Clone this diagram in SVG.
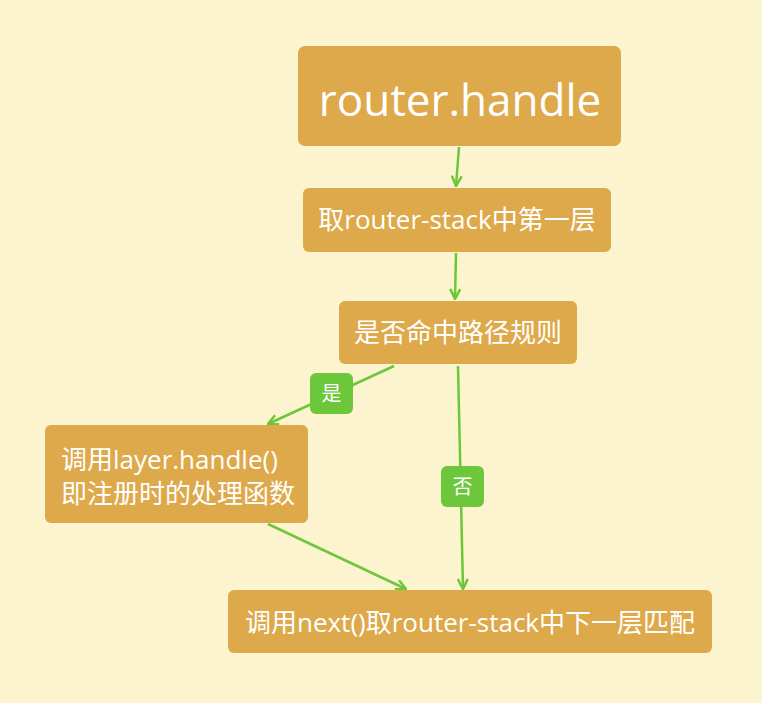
<svg xmlns="http://www.w3.org/2000/svg" width="762" height="703" viewBox="0 0 762 703">
<defs>
<style>
.node{fill:#DEA94A;}
.t{fill:#FFFFFF;font-family:"Open Sans","Noto Sans CJK SC",sans-serif;}
.c{stroke:#6CC73A;stroke-width:2.5;fill:none;}
.lb{fill:#6CC73A;}
.lt{fill:#FFFFFF;font-family:"Noto Sans CJK SC",sans-serif;font-size:20px;text-anchor:middle;}
</style>
<marker id="arr" viewBox="0 0 12 12" refX="11" refY="6" markerWidth="12" markerHeight="12" markerUnits="userSpaceOnUse" orient="auto">
<path d="M1,1 L11,6 L1,11" fill="none" stroke="#6CC73A" stroke-width="2.5" stroke-linejoin="miter"/>
</marker>
</defs>
<rect width="762" height="703" fill="#FCF4CE"/>
<g id="connectors">
<line class="c" x1="459" y1="147" x2="456" y2="186" marker-end="url(#arr)"/>
<line class="c" x1="456" y1="253" x2="455" y2="299" marker-end="url(#arr)"/>
<line class="c" x1="394" y1="366" x2="268" y2="424" marker-end="url(#arr)"/>
<line class="c" x1="458" y1="366" x2="463" y2="589" marker-end="url(#arr)"/>
<line class="c" x1="268" y1="524" x2="406" y2="589" marker-end="url(#arr)"/>
<g id="label-yes"><rect class="lb" x="310" y="373" width="43" height="41" rx="6"/><text class="lt" x="331.5" y="401">是</text></g>
<g id="label-no"><rect class="lb" x="441" y="466" width="43" height="41" rx="6"/><text class="lt" x="462.5" y="494">否</text></g>
</g>
<g id="n1"><rect class="node" x="298" y="46" width="323" height="100" rx="7"/><text class="t" x="460" y="116" font-size="44" text-anchor="middle">router.handle</text></g>
<g id="n2"><rect class="node" x="303" y="188" width="308" height="64" rx="6"/><text class="t" x="457" y="229" font-size="26" text-anchor="middle">取router-stack中第一层</text></g>
<g id="n3"><rect class="node" x="339" y="301" width="238" height="63" rx="6"/><text class="t" x="458" y="342" font-size="26" text-anchor="middle">是否命中路径规则</text></g>
<g id="n4"><rect class="node" x="45" y="425" width="263" height="98" rx="6"/><text class="t" x="61" y="469" font-size="26">调用layer.handle()</text><text class="t" x="61" y="503" font-size="26">即注册时的处理函数</text></g>
<g id="n5"><rect class="node" x="228" y="590" width="484" height="63" rx="6"/><text class="t" x="470" y="632" font-size="26" text-anchor="middle">调用next()取router-stack中下一层匹配</text></g>
</svg>
